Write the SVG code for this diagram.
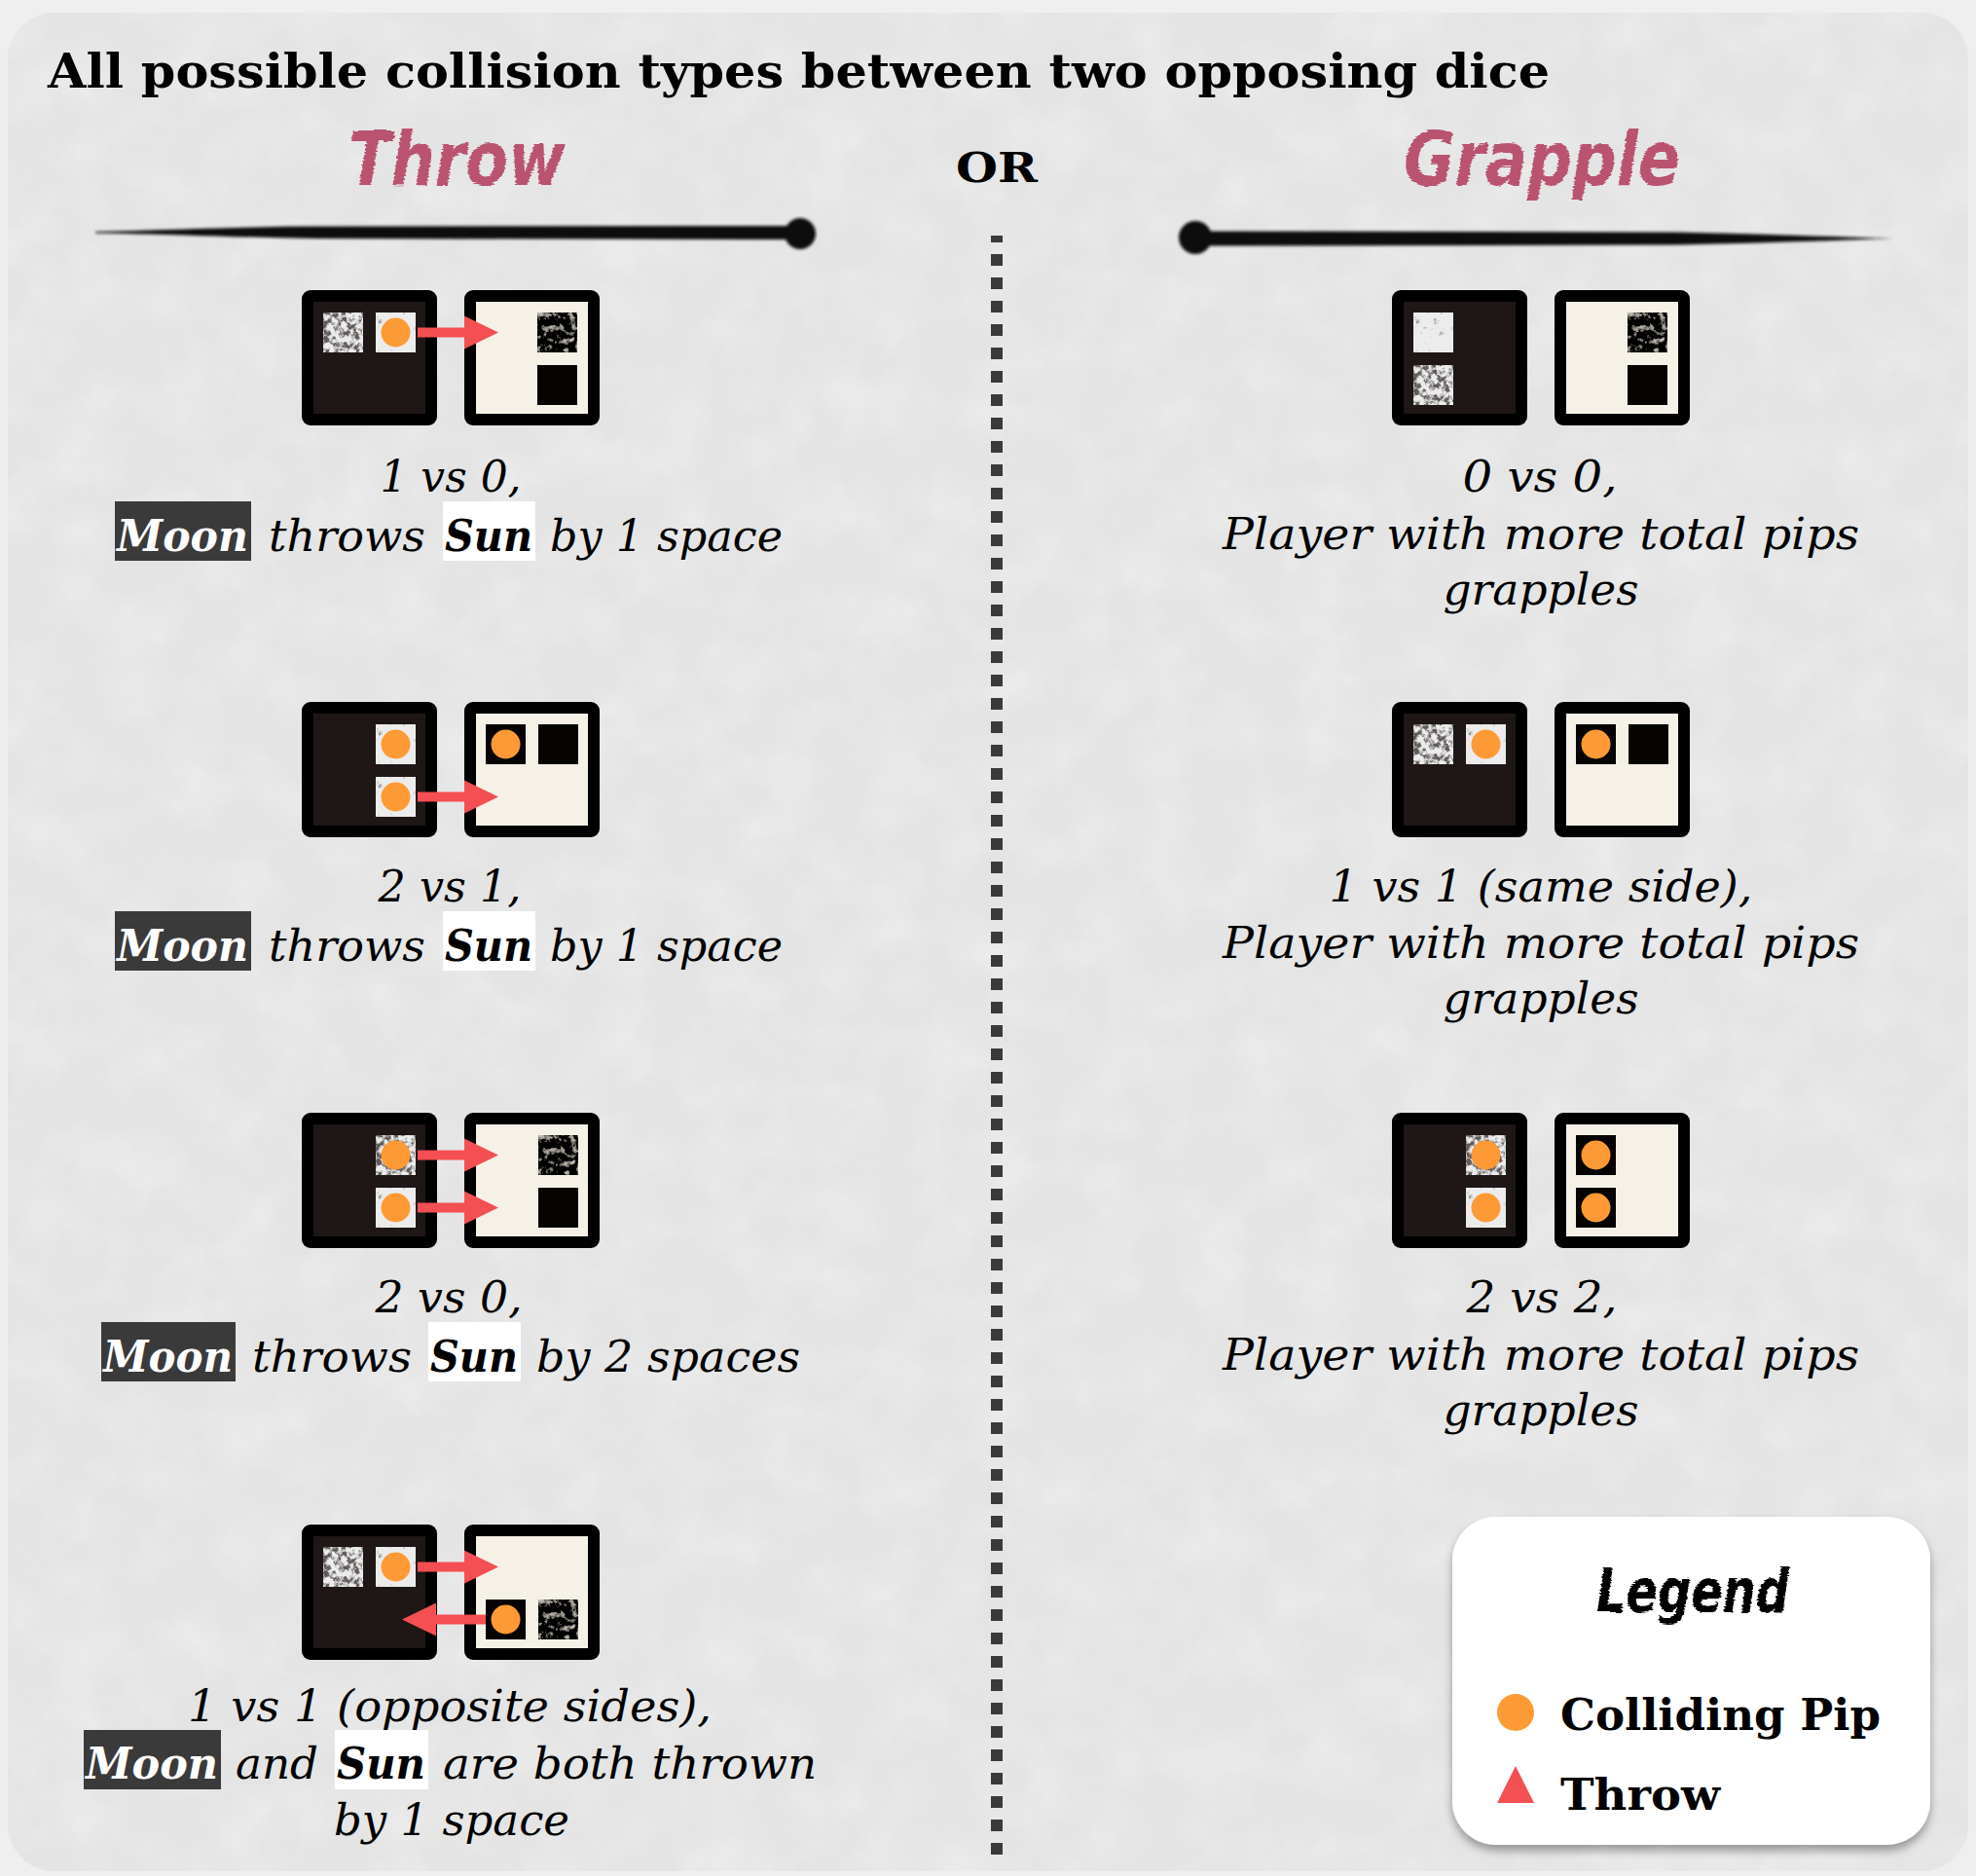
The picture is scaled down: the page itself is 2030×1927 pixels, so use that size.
<svg xmlns="http://www.w3.org/2000/svg" xmlns:xlink="http://www.w3.org/1999/xlink" width="2030" height="1927" viewBox="0 0 2030 1927">
  <style>
    .title { font-family: "DejaVu Serif", "Liberation Serif", serif; font-weight: bold; font-size: 48px; fill: #000; }
    .or { font-family: "DejaVu Serif", "Liberation Serif", serif; font-weight: bold; font-size: 42px; fill: #000; }
    .brush { font-family: "DejaVu Sans", "Liberation Sans", sans-serif; font-weight: bold; font-style: oblique; }
    .head { fill: #b9526f; font-size: 76px; }
    .cap { font-family: "DejaVu Serif", "Liberation Serif", serif; font-style: italic; font-size: 44px; fill: #000; }
    .kw { font-family: "DejaVu Serif", "Liberation Serif", serif; font-style: italic; font-weight: bold; font-size: 44px; }
    .moon-bg { fill: #3a3a3a; }
    .sun-bg { fill: #ffffff; }
    .moon-t { fill: #ffffff; }
    .sun-t { fill: #000000; }
    .legend-t { font-family: "DejaVu Serif", "Liberation Serif", serif; font-weight: bold; font-size: 44px; fill: #000; }
    .throw { fill: #f44f52; }
    .pip { fill: #fe9a35; }
  </style>
  <defs>
    <!-- paper grain -->
    <filter id="paper" x="0" y="0" width="100%" height="100%">
      <feTurbulence type="fractalNoise" baseFrequency="0.018" numOctaves="4" seed="11" result="n"/>
      <feColorMatrix in="n" type="matrix" values="0 0 0 0 1  0 0 0 0 1  0 0 0 0 1  0.5 0 0 0 -0.2" result="w"/>
      <feComposite in="w" in2="SourceGraphic" operator="atop"/>
    </filter>
    <!-- grungy speckle on pip faces -->
    <filter id="grunge-heavy" x="0" y="0" width="100%" height="100%">
      <feTurbulence type="fractalNoise" baseFrequency="0.16" numOctaves="4" seed="7" result="n"/>
      <feColorMatrix in="n" type="matrix" values="0 0 0 0 0.12  0 0 0 0 0.1  0 0 0 0 0.1  5 0 0 0 -2.1" result="s"/>
      <feComposite in="s" in2="SourceGraphic" operator="atop"/>
    </filter>
    <filter id="grunge-light" x="0" y="0" width="100%" height="100%">
      <feTurbulence type="fractalNoise" baseFrequency="0.15" numOctaves="4" seed="3" result="n"/>
      <feColorMatrix in="n" type="matrix" values="0 0 0 0 0.2  0 0 0 0 0.15  0 0 0 0 0.15  4 0 0 0 -2.6" result="s"/>
      <feComposite in="s" in2="SourceGraphic" operator="atop"/>
    </filter>
    <filter id="grunge-dark" x="0" y="0" width="100%" height="100%">
      <feTurbulence type="fractalNoise" baseFrequency="0.15" numOctaves="4" seed="5" result="n"/>
      <feColorMatrix in="n" type="matrix" values="0 0 0 0 0.55  0 0 0 0 0.52  0 0 0 0 0.45  3.5 0 0 0 -1.9" result="s"/>
      <feComposite in="s" in2="SourceGraphic" operator="atop"/>
    </filter>
    <!-- rough brush edge for hand lettering and ink strokes -->
    <filter id="brush" x="-5%" y="-20%" width="110%" height="140%">
      <feTurbulence type="fractalNoise" baseFrequency="0.05 0.6" numOctaves="2" seed="2" result="t"/>
      <feDisplacementMap in="SourceGraphic" in2="t" scale="4" xChannelSelector="R" yChannelSelector="G"/>
    </filter>
    <filter id="ink" x="-20%" y="-20%" width="140%" height="140%">
      <feGaussianBlur stdDeviation="1.5"/>
    </filter>
    <filter id="shadow" x="-10%" y="-10%" width="120%" height="125%">
      <feDropShadow dx="0" dy="6" stdDeviation="5" flood-color="#000" flood-opacity="0.35"/>
    </filter>

    <!-- die bodies -->
    <g id="die-moon">
      <rect width="139" height="139" rx="9" fill="#000"/>
      <rect x="12" y="12" width="115" height="115" fill="#1e1716"/>
    </g>
    <g id="die-sun">
      <rect width="139" height="139" rx="9" fill="#000"/>
      <rect x="12" y="12" width="115" height="115" fill="#f5f1e7"/>
    </g>
    <!-- pip faces -->
    <rect id="pl" width="41" height="41" fill="#ececec" filter="url(#grunge-light)"/>
    <rect id="pl-g" width="41" height="41" fill="#ececec" filter="url(#grunge-heavy)"/>
    <rect id="pd" width="41" height="41" fill="#050403"/>
    <rect id="pd-g" width="41" height="41" fill="#050403" filter="url(#grunge-dark)"/>
    <circle id="hit" cx="20.5" cy="20.5" r="15" class="pip"/>
  </defs>

  <!-- paper -->
  <rect width="2030" height="1927" fill="#efefef"/>
  <rect x="8" y="13" width="2014" height="1909" rx="48" fill="#e4e4e4"/>
  <rect x="8" y="13" width="2014" height="1909" rx="48" fill="#e4e4e4" filter="url(#paper)"/>

  <!-- header -->
  <g id="header">
    <text class="title" x="49" y="90" textLength="1543" lengthAdjust="spacingAndGlyphs">All possible collision types between two opposing dice</text>
    <text class="or" x="1024" y="187" text-anchor="middle" textLength="84" lengthAdjust="spacingAndGlyphs">OR</text>
    <text class="brush head" x="358" y="190" textLength="223" lengthAdjust="spacingAndGlyphs" filter="url(#brush)">Throw</text>
    <text class="brush head" x="1442" y="190" textLength="284" lengthAdjust="spacingAndGlyphs" filter="url(#brush)">Grapple</text>
    <!-- ink strokes under the headings -->
    <g fill="#111" filter="url(#ink)">
      <path d="M98,238 C180,236 260,232.5 330,232.5 L810,232 L810,246 L330,245 C260,244.5 180,240.5 98,239.5 Z"/>
      <circle cx="822" cy="240" r="16"/>
      <path d="M1230,237.5 L1720,238.5 C1800,240 1880,243 1946,245 C1880,247 1800,250 1720,251.5 L1230,252.5 Z"/>
      <circle cx="1228" cy="244" r="17"/>
    </g>
    <line x1="1024" y1="242" x2="1024" y2="1905" stroke="#3a3a3a" stroke-width="12" stroke-dasharray="12 12" stroke-dashoffset="5"/>
  </g>

  <!-- Throw: 1 vs 0 -->
  <g id="throw-1v0">
    <use href="#die-moon" x="310" y="298"/>
    <use href="#die-sun" x="477" y="298"/>
    <use href="#pl-g" x="332" y="321"/>
    <use href="#pl" x="386" y="321"/>
    <use href="#hit" x="386" y="321"/>
    <use href="#pd-g" x="552" y="321"/>
    <use href="#pd" x="552" y="375"/>
    <text class="cap" x="463" y="505" text-anchor="middle" textLength="145" lengthAdjust="spacingAndGlyphs">1 vs 0,</text>
    <rect class="moon-bg" x="118" y="515" width="140" height="61"/>
    <text class="kw moon-t" x="120" y="566" textLength="135" lengthAdjust="spacingAndGlyphs">Moon</text>
    <text class="cap" x="276" y="566" textLength="161" lengthAdjust="spacingAndGlyphs">throws</text>
    <rect class="sun-bg" x="455" y="515" width="95" height="61"/>
    <text class="kw sun-t" x="457" y="566" textLength="90" lengthAdjust="spacingAndGlyphs">Sun</text>
    <text class="cap" x="565" y="566" textLength="239" lengthAdjust="spacingAndGlyphs">by 1 space</text>
  </g>

  <!-- Throw: 2 vs 1 -->
  <g id="throw-2v1">
    <use href="#die-moon" x="310" y="721"/>
    <use href="#die-sun" x="477" y="721"/>
    <use href="#pl" x="386" y="744"/>
    <use href="#hit" x="386" y="744"/>
    <use href="#pl" x="386" y="798"/>
    <use href="#hit" x="386" y="798"/>
    <use href="#pd" x="499" y="744"/>
    <use href="#hit" x="499" y="744"/>
    <use href="#pd" x="553" y="744"/>
    <text class="cap" x="462" y="926" text-anchor="middle" textLength="147" lengthAdjust="spacingAndGlyphs">2 vs 1,</text>
    <rect class="moon-bg" x="118" y="936" width="140" height="61"/>
    <text class="kw moon-t" x="120" y="987" textLength="135" lengthAdjust="spacingAndGlyphs">Moon</text>
    <text class="cap" x="276" y="987" textLength="161" lengthAdjust="spacingAndGlyphs">throws</text>
    <rect class="sun-bg" x="455" y="936" width="95" height="61"/>
    <text class="kw sun-t" x="457" y="987" textLength="90" lengthAdjust="spacingAndGlyphs">Sun</text>
    <text class="cap" x="565" y="987" textLength="239" lengthAdjust="spacingAndGlyphs">by 1 space</text>
  </g>

  <!-- Throw: 2 vs 0 -->
  <g id="throw-2v0">
    <use href="#die-moon" x="310" y="1143"/>
    <use href="#die-sun" x="477" y="1143"/>
    <use href="#pl-g" x="386" y="1166"/>
    <use href="#hit" x="386" y="1166"/>
    <use href="#pl" x="386" y="1220"/>
    <use href="#hit" x="386" y="1220"/>
    <use href="#pd-g" x="553" y="1166"/>
    <use href="#pd" x="553" y="1220"/>
    <text class="cap" x="461" y="1348" text-anchor="middle" textLength="151" lengthAdjust="spacingAndGlyphs">2 vs 0,</text>
    <rect class="moon-bg" x="104" y="1358" width="138" height="61"/>
    <text class="kw moon-t" x="106" y="1409" textLength="133" lengthAdjust="spacingAndGlyphs">Moon</text>
    <text class="cap" x="259" y="1409" textLength="164" lengthAdjust="spacingAndGlyphs">throws</text>
    <rect class="sun-bg" x="440" y="1358" width="95" height="61"/>
    <text class="kw sun-t" x="442" y="1409" textLength="90" lengthAdjust="spacingAndGlyphs">Sun</text>
    <text class="cap" x="551" y="1409" textLength="271" lengthAdjust="spacingAndGlyphs">by 2 spaces</text>
  </g>

  <!-- Throw: 1 vs 1, opposite sides -->
  <g id="throw-1v1">
    <use href="#die-moon" x="310" y="1566"/>
    <use href="#die-sun" x="477" y="1566"/>
    <use href="#pl-g" x="332" y="1589"/>
    <use href="#pl" x="386" y="1589"/>
    <use href="#hit" x="386" y="1589"/>
    <use href="#pd" x="499" y="1643"/>
    <use href="#hit" x="499" y="1643"/>
    <use href="#pd-g" x="553" y="1643"/>
    <text class="cap" x="462" y="1768" text-anchor="middle" textLength="538" lengthAdjust="spacingAndGlyphs">1 vs 1 (opposite sides),</text>
    <rect class="moon-bg" x="86" y="1777" width="141" height="61"/>
    <text class="kw moon-t" x="88" y="1827" textLength="136" lengthAdjust="spacingAndGlyphs">Moon</text>
    <text class="cap" x="242" y="1827" textLength="85" lengthAdjust="spacingAndGlyphs">and</text>
    <rect class="sun-bg" x="344" y="1777" width="96" height="61"/>
    <text class="kw sun-t" x="346" y="1827" textLength="91" lengthAdjust="spacingAndGlyphs">Sun</text>
    <text class="cap" x="455" y="1827" textLength="384" lengthAdjust="spacingAndGlyphs">are both thrown</text>
    <text class="cap" x="464" y="1885" text-anchor="middle" textLength="242" lengthAdjust="spacingAndGlyphs">by 1 space</text>
  </g>

  <!-- Grapple: 0 vs 0 -->
  <g id="grapple-0v0">
    <use href="#die-moon" x="1430" y="298"/>
    <use href="#die-sun" x="1597" y="298"/>
    <use href="#pl" x="1452" y="321"/>
    <use href="#pl-g" x="1452" y="375"/>
    <use href="#pd-g" x="1672" y="321"/>
    <use href="#pd" x="1672" y="375"/>
    <text class="cap" x="1582" y="505" text-anchor="middle" textLength="159" lengthAdjust="spacingAndGlyphs">0 vs 0,</text>
    <text class="cap" x="1583" y="564" text-anchor="middle" textLength="654" lengthAdjust="spacingAndGlyphs">Player with more total pips</text>
    <text class="cap" x="1583" y="621" text-anchor="middle" textLength="201" lengthAdjust="spacingAndGlyphs">grapples</text>
  </g>

  <!-- Grapple: 1 vs 1, same side -->
  <g id="grapple-1v1">
    <use href="#die-moon" x="1430" y="721"/>
    <use href="#die-sun" x="1597" y="721"/>
    <use href="#pl-g" x="1452" y="744"/>
    <use href="#pl" x="1506" y="744"/>
    <use href="#hit" x="1506" y="744"/>
    <use href="#pd" x="1619" y="744"/>
    <use href="#hit" x="1619" y="744"/>
    <use href="#pd" x="1673" y="744"/>
    <text class="cap" x="1583" y="926" text-anchor="middle" textLength="435" lengthAdjust="spacingAndGlyphs">1 vs 1 (same side),</text>
    <text class="cap" x="1583" y="984" text-anchor="middle" textLength="654" lengthAdjust="spacingAndGlyphs">Player with more total pips</text>
    <text class="cap" x="1583" y="1041" text-anchor="middle" textLength="201" lengthAdjust="spacingAndGlyphs">grapples</text>
  </g>

  <!-- Grapple: 2 vs 2 -->
  <g id="grapple-2v2">
    <use href="#die-moon" x="1430" y="1143"/>
    <use href="#die-sun" x="1597" y="1143"/>
    <use href="#pl-g" x="1506" y="1166"/>
    <use href="#hit" x="1506" y="1166"/>
    <use href="#pl" x="1506" y="1220"/>
    <use href="#hit" x="1506" y="1220"/>
    <use href="#pd" x="1619" y="1166"/>
    <use href="#hit" x="1619" y="1166"/>
    <use href="#pd" x="1619" y="1220"/>
    <use href="#hit" x="1619" y="1220"/>
    <text class="cap" x="1584" y="1348" text-anchor="middle" textLength="155" lengthAdjust="spacingAndGlyphs">2 vs 2,</text>
    <text class="cap" x="1583" y="1407" text-anchor="middle" textLength="654" lengthAdjust="spacingAndGlyphs">Player with more total pips</text>
    <text class="cap" x="1583" y="1464" text-anchor="middle" textLength="201" lengthAdjust="spacingAndGlyphs">grapples</text>
  </g>

  <!-- throw arrows -->
  <g id="connectors" class="throw">
    <path d="M429,336.5 H477 V324.5 L512,341.5 L477,358.5 V346.5 H429 Z"/>
    <path d="M429,813.5 H477 V801.5 L512,818.5 L477,835.5 V823.5 H429 Z"/>
    <path d="M429,1181.5 H477 V1169.5 L512,1186.5 L477,1203.5 V1191.5 H429 Z"/>
    <path d="M429,1235.5 H477 V1223.5 L512,1240.5 L477,1257.5 V1245.5 H429 Z"/>
    <path d="M429,1604.5 H477 V1592.5 L512,1609.5 L477,1626.5 V1614.5 H429 Z"/>
    <path d="M499,1658.5 H448 V1646.5 L413,1663.5 L448,1680.5 V1668.5 H499 Z"/>
  </g>

  <!-- legend -->
  <g id="legend">
    <rect x="1492" y="1558" width="491" height="337" rx="45" fill="#fff" filter="url(#shadow)"/>
    <text class="brush" x="1640" y="1656" font-size="62" fill="#000" textLength="198" lengthAdjust="spacingAndGlyphs" filter="url(#brush)">Legend</text>
    <circle cx="1557" cy="1759" r="19" class="pip"/>
    <text class="legend-t" x="1603" y="1777" textLength="329" lengthAdjust="spacingAndGlyphs">Colliding Pip</text>
    <path d="M1538,1852 L1557,1814 L1576,1852 Z" class="throw"/>
    <text class="legend-t" x="1603" y="1859" textLength="164" lengthAdjust="spacingAndGlyphs">Throw</text>
  </g>
</svg>
